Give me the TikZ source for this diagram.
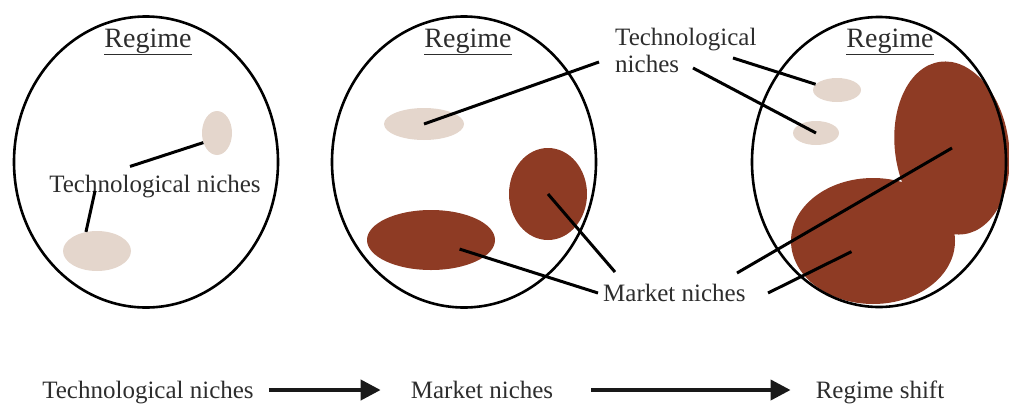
\documentclass[tikz,border=0pt]{standalone}
\usepackage{fontspec}
\setmainfont{Liberation Serif}
\usetikzlibrary{arrows.meta,shapes.geometric}
\definecolor{techfill}{RGB}{228,214,204}
\definecolor{marketfill}{RGB}{142,59,36}
\definecolor{inkgrey}{RGB}{45,45,45}
\tikzset{ring/.style={ellipse,draw,line width=2.6pt,inner sep=0pt,minimum width=264pt,minimum height=291pt},
         techniche/.style={ellipse,fill=techfill,inner sep=0pt},
         marketniche/.style={ellipse,fill=marketfill,inner sep=0pt},
         regime/.style={anchor=base,inner sep=0pt,text=inkgrey,font=\fontsize{28}{30}\selectfont},
         lbl/.style={inner sep=0pt,text=inkgrey,font=\fontsize{25}{27}\selectfont},
         link/.style={line width=3pt,black},
         flow/.style={-{Triangle[length=20pt,width=20pt]},line width=4pt,black!90}}

\begin{document}
\begin{tikzpicture}[x=1pt,y=-1pt]
  \useasboundingbox (0,0) rectangle (1009,405);
  \node[techniche,minimum width=30pt,minimum height=44pt] (a1) at (217,133) {};
  \node[techniche,minimum width=68pt,minimum height=40pt] (a2) at (97,251) {};
  \node[ring] (r1) at (146,162) {};
  \node[regime] (t1) at (148,47) {\underline{Regime}};
  \node[lbl,anchor=base,inner sep=8pt] (l1) at (155,192) {Technological niches};
  \coordinate (c1) at (95,191);
  \draw[link] ([xshift=-25pt]l1.north) -- (a1.215);
  \draw[link] (c1) -- (a2.120);

  \node[techniche,minimum width=80pt,minimum height=32pt] (b1) at (424,124) {};
  \node[marketniche,minimum width=78pt,minimum height=92pt] (m1) at (548,194) {};
  \node[marketniche,minimum width=128pt,minimum height=60pt] (m2) at (431,240) {};
  \node[ring] (r2) at (464,162) {};
  \node[regime] (t2) at (468,47) {\underline{Regime}};

  \node[marketniche,minimum width=114pt,minimum height=174pt,rotate=8] (m4) at (952,148) {};
  \node[marketniche,minimum width=164pt,minimum height=126pt] (m3) at (873,241) {};
  \node[techniche,minimum width=48pt,minimum height=24pt] (b2) at (837,90) {};
  \node[techniche,minimum width=46pt,minimum height=24pt] (b3) at (816,133) {};
  \node[ring,minimum width=254pt,minimum height=290pt] (r3) at (879,162) {};
  \node[regime] (t3) at (890,47) {\underline{Regime}};

  \node[lbl,anchor=north west,align=left] (l2) at (615,28) {Technological\\niches};
  \node[lbl,anchor=base west] (l3) at (603,301) {Market niches};
  \coordinate (p0) at (599,62);
  \coordinate (p1) at (733,58);
  \coordinate (p2) at (693,68);
  \coordinate (q1) at (598,293);
  \coordinate (q2) at (615,272);
  \coordinate (q3) at (737,273);
  \coordinate (q4) at (768,293);
  \draw[link] (b1.center) -- (p0);
  \draw[link] (p1) -- (b2.165);
  \draw[link] (p2) -- (b3.center);
  \draw[link,shorten <=30pt] (m2.center) -- (q1);
  \draw[link] (m1.center) -- (q2);
  \draw[link] (m4.center) -- (q3);
  \draw[link,shorten <=24pt] (m3.center) -- (q4);

  \node[lbl,anchor=base] (s1) at (148,398) {Technological niches};
  \node[lbl,anchor=base] (s2) at (482,398) {Market niches};
  \node[lbl,anchor=base] (s3) at (880,398) {Regime shift};
  \draw[flow,shorten <=15pt,shorten >=30pt] ([yshift=8pt]s1.base east) -- ([yshift=8pt]s2.base west);
  \draw[flow,shorten <=38pt,shorten >=25pt] ([yshift=8pt]s2.base east) -- ([yshift=8pt]s3.base west);
\end{tikzpicture}
\end{document}
